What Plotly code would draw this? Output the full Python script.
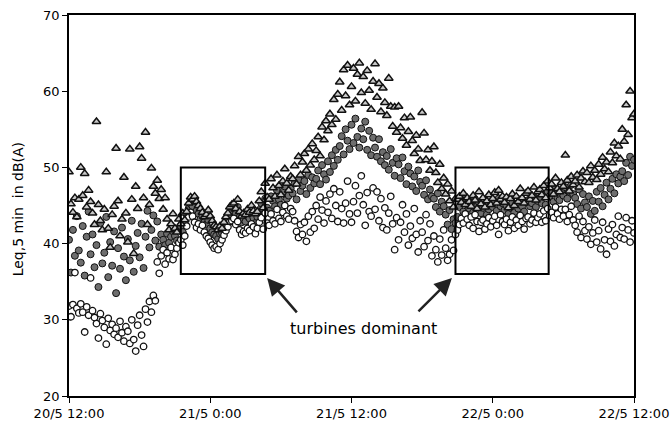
import pandas as pd
import plotly.graph_objects as go

# 10-minute samples from 20/5 12:00 to 22/5 12:00 (6 values per hour)
start = "2003-05-20 12:00"

# Leq,5min in dB(A) - upper series (triangles)
tri_db = [
    49.4, 45.2, 44.1, 46.0, 43.5, 45.8,
    50.0, 46.3, 49.2, 44.8, 47.0, 45.5,
    44.0, 42.5, 56.0, 45.1, 43.0, 41.8,
    44.5, 49.4, 42.0, 39.5, 43.8, 44.9,
    52.5, 45.6, 41.0, 43.2, 48.7, 44.0,
    40.2, 52.4, 45.8, 38.7, 47.5, 44.6,
    52.7, 51.2, 46.0, 54.6, 42.5, 45.1,
    49.9, 47.5, 46.6, 48.3, 45.9, 47.1,
    44.5, 46.0, 43.2, 41.8, 42.6, 43.9,
    42.0, 41.5, 43.2, 42.6, 44.0, 43.1,
    44.2, 45.3, 46.1, 45.8, 46.2, 45.5,
    45.0, 44.6, 44.1, 43.5, 43.8, 44.4,
    43.6, 43.0, 42.4, 42.2, 41.8, 42.3,
    42.0, 42.8, 43.5, 44.0, 44.8, 45.1,
    45.3, 44.6, 45.8, 44.2, 43.6, 44.0,
    43.8, 44.5, 44.1, 45.0, 44.3, 43.9,
    44.2, 45.6, 46.8, 44.7, 47.9, 46.1,
    45.8, 48.5, 47.3, 46.2, 49.0, 47.6,
    46.4, 48.2, 49.8, 47.9, 47.0, 48.8,
    48.5, 50.2, 47.8, 51.4, 49.0, 50.7,
    51.8, 49.6, 52.4, 50.3, 53.1, 51.0,
    52.2, 54.0, 51.5, 55.3, 53.6, 56.1,
    54.8, 57.0, 55.6, 58.9, 56.3, 59.6,
    61.2, 57.5, 62.8, 59.4, 63.4, 58.2,
    60.6, 63.0, 58.7, 62.2, 63.7, 59.8,
    61.9, 58.4, 62.7, 60.1, 57.6, 61.3,
    63.6, 59.2, 61.0, 57.3, 60.4, 58.5,
    56.8, 61.7, 58.0, 55.4, 57.9, 54.6,
    58.0, 55.2, 53.8, 56.5, 52.9, 54.7,
    56.6, 53.5, 51.8, 54.2, 52.4, 50.9,
    57.2, 54.5, 51.0, 52.3, 49.6, 50.8,
    52.7, 49.3, 48.0, 50.4, 47.2, 48.6,
    46.5, 47.8, 45.6, 46.9, 44.8, 45.9,
    45.8, 46.2, 45.4, 46.6, 45.1, 46.0,
    45.5, 44.9, 46.3, 45.7, 44.6, 46.8,
    45.2, 46.0, 44.8, 45.6, 46.4, 45.1,
    45.9, 46.7, 45.3, 47.0, 45.8, 46.2,
    45.4, 46.1, 44.7, 45.9, 46.5, 45.0,
    46.2, 45.5, 47.2, 46.0, 45.3, 46.6,
    46.9, 45.8, 46.3, 47.4, 45.7, 46.8,
    47.1, 46.4, 47.6, 46.0, 48.2, 47.3,
    47.8, 46.5, 48.6, 47.2, 46.8, 48.0,
    47.5, 51.6, 48.3, 46.9, 48.8, 47.7,
    48.2, 49.0, 47.4, 48.6, 49.5, 48.1,
    49.3, 48.0, 50.2, 48.7, 49.6, 48.4,
    50.4, 49.1, 51.3, 49.8, 50.7, 49.4,
    52.0, 50.6, 53.2, 51.5, 52.8, 51.1,
    55.0, 53.4, 58.2, 54.3, 60.0, 56.5,
    57.0,
]

# middle series (grey filled)
grey_db = [
    40.5, 36.2, 41.8, 38.4, 43.6, 39.1,
    37.5, 42.3, 35.8, 40.9, 44.2, 38.6,
    41.2, 36.9, 39.8, 34.3, 42.7, 37.4,
    38.8, 43.5, 35.6, 40.2, 37.1, 41.6,
    33.5, 39.4, 36.7, 42.1, 38.3, 35.2,
    40.6, 37.8, 43.0, 36.3, 39.7, 41.4,
    38.2, 42.6, 36.8, 40.9, 44.3, 39.5,
    41.8, 43.7, 40.4, 42.9, 39.6, 41.2,
    40.5, 39.8, 41.3, 40.1, 40.9, 41.6,
    41.0, 40.4, 41.8, 42.3, 41.5, 42.9,
    43.8, 44.6, 45.2, 44.9, 45.6, 44.3,
    43.9, 43.2, 43.6, 42.8, 42.5, 43.1,
    42.0, 41.5, 41.2, 41.0, 40.6, 41.3,
    41.4, 42.1, 42.6, 43.2, 43.8, 44.2,
    44.6, 43.9, 44.8, 43.5, 42.8, 43.2,
    42.9, 43.6, 43.3, 44.0, 43.4, 42.7,
    43.5, 44.4, 45.3, 43.8, 45.9, 44.7,
    44.3, 46.2, 45.6, 44.9, 47.0, 45.8,
    45.1, 46.8, 47.5, 45.9, 46.3, 47.2,
    46.6, 47.9, 45.8, 48.4, 46.9, 47.6,
    48.2, 46.5, 49.0, 47.3, 48.7, 47.9,
    48.5, 49.6, 47.8, 50.3, 49.1, 48.4,
    50.8, 49.4, 51.6, 50.2, 52.3, 51.0,
    52.8, 54.1, 51.7, 55.0, 53.5, 52.4,
    55.6, 53.2, 56.4, 54.0, 52.6, 55.1,
    53.7, 56.0, 52.3, 54.8, 51.6, 53.9,
    52.6, 51.4, 53.7, 50.8, 52.0, 50.3,
    51.5, 49.7, 52.4, 50.6, 48.9, 51.2,
    50.4, 48.6, 51.3, 49.5, 47.8, 50.1,
    49.2, 47.5, 48.8, 46.9, 49.6, 48.1,
    47.6, 46.4, 48.3, 45.8, 47.1, 46.2,
    45.9, 44.8, 46.6, 44.2, 45.5, 44.9,
    43.8, 42.5, 44.4, 41.9, 43.2, 42.7,
    43.5, 44.8, 45.5, 44.2, 45.9, 45.1,
    44.6, 45.3, 44.1, 45.8, 44.9, 45.4,
    44.0, 44.7, 45.2, 43.8, 44.5, 45.0,
    44.8, 45.6, 44.3, 45.9, 44.9, 45.3,
    44.4, 45.0, 43.9, 44.7, 45.4, 44.1,
    45.2, 44.6, 45.8, 44.9, 44.2, 45.5,
    45.7, 44.9, 45.3, 46.1, 44.8, 45.6,
    46.0, 45.3, 46.5, 45.1, 46.8, 46.2,
    46.6, 45.5, 47.2, 46.0, 45.7, 46.9,
    46.3, 47.4, 45.9, 46.8, 47.7, 46.5,
    46.0, 45.2, 47.1, 44.6, 46.5, 45.4,
    44.8, 46.2, 43.9, 45.6, 44.3, 46.8,
    45.5, 47.3, 44.9, 46.4, 48.0, 45.8,
    47.2, 48.5, 46.6, 49.1, 47.9, 48.8,
    49.5, 48.2, 50.6, 49.0, 51.4, 50.2,
    51.0,
]

# lower series (open circles)
circ_db = [
    31.8, 30.4, 32.0, 36.2, 31.5, 30.9,
    32.1, 31.0, 28.4, 31.7, 30.6, 35.5,
    31.2, 30.3, 29.5, 27.6, 30.8, 29.9,
    29.0, 26.8, 30.2, 28.6, 29.4, 28.1,
    28.9, 27.7, 29.8, 28.3, 27.2, 29.1,
    28.5, 26.9, 30.0, 27.4, 25.9, 29.3,
    30.6, 28.0, 26.5, 31.4, 29.7, 32.4,
    31.0, 33.2, 32.5, 37.6, 36.1, 38.4,
    39.2, 37.3, 38.8, 38.0, 39.5, 37.9,
    38.6, 39.4, 40.1, 40.5, 39.8, 41.0,
    42.3, 43.5, 44.1, 43.6, 42.8, 42.1,
    42.6, 41.8, 42.4, 41.5, 41.0, 40.7,
    40.2, 39.8, 39.4, 39.6, 39.2, 40.0,
    40.5, 41.1, 41.7, 42.2, 42.9, 43.0,
    43.3, 42.5, 42.9, 41.8, 41.2, 41.6,
    41.4, 42.0, 41.7, 42.6, 42.2, 41.3,
    42.0, 42.8, 43.4, 41.9, 44.0, 42.7,
    42.4, 43.9, 43.0, 42.6, 44.5, 43.3,
    42.9, 44.1, 45.0, 43.6, 43.2, 44.6,
    44.2, 43.0, 41.6, 40.8, 42.5, 41.2,
    42.8, 40.3, 43.6, 41.5, 44.2, 42.0,
    45.0, 43.2, 46.1, 44.4, 42.7, 45.6,
    44.1, 46.5, 43.3, 47.2, 45.0, 42.9,
    46.8, 44.6, 42.7, 45.3, 48.2, 43.9,
    42.8, 45.5, 47.6, 44.0, 46.3, 48.9,
    45.1, 42.4, 46.7, 44.2, 43.6, 47.3,
    44.5, 46.8, 43.0, 45.9, 42.1, 44.7,
    41.8, 44.0, 46.2, 42.6, 39.2, 43.4,
    40.5, 42.8, 45.1, 41.5, 43.9, 39.8,
    42.3, 40.7, 44.6, 41.2, 38.9, 43.0,
    41.5, 39.6, 43.8, 40.4, 42.6, 38.4,
    41.0, 39.2, 37.6, 40.6, 38.5, 41.8,
    39.4, 37.8, 38.6, 40.5, 39.1, 41.2,
    41.8, 42.5, 43.3, 42.7, 43.9, 43.2,
    42.4, 43.5, 42.0, 43.8, 42.9, 41.6,
    42.8, 43.1, 41.9, 42.6, 43.4, 42.2,
    43.0, 43.6, 42.4, 41.2, 43.8, 42.9,
    42.5, 43.2, 41.7, 42.8, 43.5, 42.0,
    43.1, 42.4, 43.7, 42.9, 41.9, 43.3,
    43.5, 42.6, 43.1, 44.0, 42.8, 43.4,
    43.9, 42.8, 44.3, 43.0, 44.6, 43.7,
    44.1, 43.4, 44.8, 43.9, 43.2, 44.5,
    43.6, 44.5, 42.9, 43.8, 44.9, 43.1,
    42.4, 41.5, 43.6, 40.8, 42.9, 41.7,
    40.6, 42.2, 39.9, 41.4, 43.1, 40.2,
    41.7, 39.3, 42.8, 40.5, 38.6, 41.9,
    40.3, 42.5, 39.7, 41.2, 43.6, 40.8,
    42.1, 40.6, 43.4, 41.8, 40.2, 43.0,
    41.4,
]

times = pd.date_range(start, periods=len(tri_db), freq="10min")

# x tick positions and labels
tick_times = ["2003-05-20 12:00", "2003-05-21 00:00", "2003-05-21 12:00",
              "2003-05-22 00:00", "2003-05-22 12:00"]
tick_labels = ["20/5 12:00", "21/5 0:00", "21/5 12:00", "22/5 0:00", "22/5 12:00"]

# night periods where the turbines dominate
boxes = [("2003-05-20 21:30", "2003-05-21 04:40"),
         ("2003-05-21 20:50", "2003-05-22 04:45")]
box_low, box_high = 36, 50

FONT = "DejaVu Sans"

fig = go.Figure()
fig.add_trace(go.Scatter(
    x=times, y=grey_db, mode="markers",
    marker=dict(symbol="circle", size=7, color="#6e6e6e",
                line=dict(color="#111111", width=1)),
    showlegend=False))
fig.add_trace(go.Scatter(
    x=times, y=circ_db, mode="markers",
    marker=dict(symbol="circle", size=6.5, color="white",
                line=dict(color="#111111", width=1.3)),
    showlegend=False))
fig.add_trace(go.Scatter(
    x=times, y=tri_db, mode="markers",
    marker=dict(symbol="triangle-up", size=7.5, color="#c8c8c8",
                line=dict(color="#111111", width=1.5)),
    showlegend=False))

for x0, x1 in boxes:
    fig.add_shape(type="rect", xref="x", yref="y", x0=x0, x1=x1,
                  y0=box_low, y1=box_high,
                  line=dict(color="black", width=2), fillcolor="rgba(0,0,0,0)")

fig.add_annotation(x="2003-05-21 13:00", y=28.9, xref="x", yref="y",
                   text="turbines dominant", showarrow=False,
                   font=dict(family=FONT, size=16, color="black"))
# arrows pointing to the lower corners of the boxes
fig.add_annotation(x="2003-05-21 04:50", y=35.5, xref="x", yref="y",
                   ax=31, ay=36, text="", showarrow=True,
                   arrowhead=2, arrowsize=1.4, arrowwidth=2.5, arrowcolor="#222222")
fig.add_annotation(x="2003-05-21 20:32", y=35.5, xref="x", yref="y",
                   ax=-35, ay=35, text="", showarrow=True,
                   arrowhead=2, arrowsize=1.4, arrowwidth=2.5, arrowcolor="#222222")

# y axis title, placed explicitly
fig.add_annotation(xref="paper", yref="paper", x=0, y=0.49, xshift=-51,
                   xanchor="center", yanchor="middle",
                   text="Leq,5 min  in dB(A)", textangle=-90, showarrow=False,
                   font=dict(family=FONT, size=14, color="black"))

fig.update_layout(
    width=670, height=428,
    margin=dict(l=69, r=36, t=15, b=32),
    paper_bgcolor="white", plot_bgcolor="white",
    font=dict(family=FONT, size=13, color="black"),
    xaxis=dict(
        range=["2003-05-20 12:00", "2003-05-22 12:00"],
        tickvals=tick_times, ticktext=tick_labels,
        showgrid=False, zeroline=False, automargin=False,
        showline=True, linecolor="black", linewidth=1.5, mirror=True,
        ticks="outside", ticklen=5, tickcolor="black", tickwidth=1,
    ),
    yaxis=dict(
        range=[20, 70], tickvals=[20, 30, 40, 50, 60, 70],
        showgrid=False, zeroline=False, automargin=False,
        showline=True, linecolor="black", linewidth=1.5, mirror=True,
        ticks="outside", ticklen=5, tickcolor="black", tickwidth=1,
    ),
)

fig.write_html("out.html")
